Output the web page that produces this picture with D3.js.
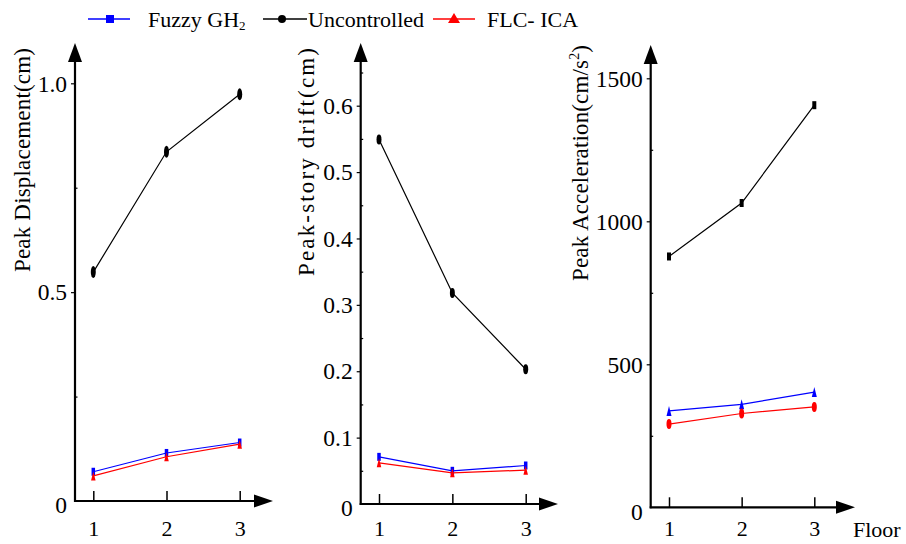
<!DOCTYPE html>
<html>
<head>
<meta charset="utf-8">
<script src="https://cdn.jsdelivr.net/npm/d3@7/dist/d3.min.js"></script>
<style>
  html, body { margin: 0; padding: 0; background: #fff; }
  svg { display: block; font-family: "Liberation Serif", "Times New Roman", serif; }
</style>
</head>
<body>
<svg id="chart" width="906" height="544"></svg>
<script>
// Floors on the horizontal axis
const floors = [1, 2, 3];

// Peak displacement (cm)
const dispFuzzy = [0.070, 0.115, 0.140];
const dispUncontrolled = [0.548, 0.836, 0.974];
const dispFlcIca = [0.060, 0.106, 0.136];

// Peak story drift (cm)
const driftFuzzy = [0.071, 0.050, 0.058];
const driftUncontrolled = [0.549, 0.318, 0.203];
const driftFlcIca = [0.062, 0.047, 0.051];

// Peak acceleration (cm/s^2)
const accFuzzy = [337, 360, 403];
const accUncontrolled = [877, 1064, 1406];
const accFlcIca = [291, 328, 351];

// Tick values and labels
const dispTicks = [0, 0.5, 1.0];
const dispTickLabels = ["0", "0.5", "1.0"];
const dispMinor = [0.25, 0.75];
const driftTicks = [0, 0.1, 0.2, 0.3, 0.4, 0.5, 0.6];
const driftTickLabels = ["0", "0.1", "0.2", "0.3", "0.4", "0.5", "0.6"];
const driftMinor = [0.05, 0.15, 0.25, 0.35, 0.45, 0.55, 0.65];
const accTicks = [0, 500, 1000, 1500];
const accTickLabels = ["0", "500", "1000", "1500"];
const accMinor = [250, 750, 1250];

const seriesNames = ["Fuzzy GH", "Uncontrolled", "FLC- ICA"];
const colors = { fuzzy: "#0000ff", unc: "#000000", flc: "#ff0000" };

const svg = d3.select("#chart");

// Narrow marker shapes centred on (0,0)
function drawMarker(g, shape, color, w, h) {
  if (shape === "rect") {
    g.append("rect").attr("x", -w / 2).attr("y", -h / 2).attr("width", w).attr("height", h).attr("fill", color);
  } else if (shape === "ellipse") {
    g.append("ellipse").attr("rx", w / 2).attr("ry", h / 2).attr("fill", color);
  } else {
    g.append("path").attr("d", `M0,${-h / 2}L${w / 2},${h / 2}L${-w / 2},${h / 2}Z`).attr("fill", color);
  }
}

const panels = [
  {
    title: [{ t: "Peak Displacement(cm)" }], titleX: 30, titleY: 160, titleLen: 224,
    axisX: 75, xRange: [93.3, 239.7], tipX: 273,
    yDomain: [0, 1], yRange: [501, 83.3], topY: 43,
    ticks: dispTicks, labels: dispTickLabels, minor: dispMinor,
    series: [
      { v: dispFuzzy, c: colors.fuzzy, shape: "rect", w: 3.5, h: 8 },
      { v: dispFlcIca, c: colors.flc, shape: "tri", w: 4.5, h: 9 },
      { v: dispUncontrolled, c: colors.unc, shape: "ellipse", w: 5, h: 12 }
    ]
  },
  {
    title: [{ t: "Peak-story drift(cm)" }], titleX: 314, titleY: 162, titleLen: 228,
    axisX: 360.7, xRange: [379, 525.7], tipX: 558,
    yDomain: [0, 0.6], yRange: [504, 105.7], topY: 43,
    ticks: driftTicks, labels: driftTickLabels, minor: driftMinor,
    series: [
      { v: driftFuzzy, c: colors.fuzzy, shape: "rect", w: 3.5, h: 8 },
      { v: driftFlcIca, c: colors.flc, shape: "tri", w: 4.5, h: 9 },
      { v: driftUncontrolled, c: colors.unc, shape: "ellipse", w: 5, h: 10 }
    ]
  },
  {
    title: [{ t: "Peak Acceleration(cm/s" }, { t: "2", sup: true }, { t: ")" }], titleX: 588, titleY: 163, titleLen: 236,
    axisX: 650.7, xRange: [669, 814.3], tipX: 855,
    yDomain: [0, 1500], yRange: [507.3, 78.3], topY: 45,
    ticks: accTicks, labels: accTickLabels, minor: accMinor,
    series: [
      { v: accFuzzy, c: colors.fuzzy, shape: "tri", w: 5, h: 10 },
      { v: accFlcIca, c: colors.flc, shape: "ellipse", w: 5, h: 10 },
      { v: accUncontrolled, c: colors.unc, shape: "rect", w: 4, h: 8 }
    ]
  }
];

panels.forEach(p => {
  const x = d3.scaleLinear().domain([1, 3]).range(p.xRange);
  const y = d3.scaleLinear().domain(p.yDomain).range(p.yRange);
  const baseY = y(0);
  const g = svg.append("g");

  // Axis lines with arrowheads
  g.append("line").attr("x1", p.axisX).attr("x2", p.axisX).attr("y1", baseY + 1).attr("y2", p.topY + 10)
    .attr("stroke", "#000").attr("stroke-width", 2.2);
  g.append("path").attr("d", `M${p.axisX},${p.topY}L${p.axisX + 7},${p.topY + 19}L${p.axisX - 7},${p.topY + 19}Z`).attr("fill", "#000");
  g.append("line").attr("x1", p.axisX - 1).attr("x2", p.tipX - 10).attr("y1", baseY).attr("y2", baseY)
    .attr("stroke", "#000").attr("stroke-width", 2.2);
  g.append("path").attr("d", `M${p.tipX},${baseY}L${p.tipX - 19},${baseY - 6.5}L${p.tipX - 19},${baseY + 6.5}Z`).attr("fill", "#000");

  // Major y ticks with labels
  const yAxis = d3.axisLeft(y).tickValues(p.ticks)
    .tickFormat((d, i) => p.labels[i]).tickSizeInner(4).tickSizeOuter(0).tickPadding(4);
  const ya = g.append("g").attr("transform", `translate(${p.axisX},0)`).call(yAxis);
  ya.select(".domain").remove();
  ya.selectAll(".tick line").attr("stroke", "#000").attr("stroke-width", 1.2)
    .filter(d => d === 0).remove();
  ya.selectAll(".tick text").attr("font-family", "Liberation Serif").attr("font-size", 23.5).attr("fill", "#000")
    .attr("dy", (d) => d === 0 ? "0.5em" : "0.33em");

  // Minor y ticks
  const yMinor = d3.axisRight(y).tickValues(p.minor).tickFormat("").tickSizeInner(2.5).tickSizeOuter(0);
  const ym = g.append("g").attr("transform", `translate(${p.axisX},0)`).call(yMinor);
  ym.select(".domain").remove();
  ym.selectAll(".tick line").attr("stroke", "#000").attr("stroke-width", 1.2);

  // Floor ticks and labels
  const xAxis = d3.axisBottom(x).tickValues(floors).tickFormat(d3.format("d")).tickSizeInner(-10).tickSizeOuter(0);
  const xa = g.append("g").attr("transform", `translate(0,${baseY})`).call(xAxis);
  xa.select(".domain").remove();
  xa.selectAll(".tick line").attr("stroke", "#000").attr("stroke-width", 1.5);
  xa.selectAll(".tick text").attr("font-family", "Liberation Serif").attr("font-size", 22).attr("fill", "#000")
    .attr("y", 536 - baseY).attr("dy", 0);

  // Axis title
  const title = g.append("text")
    .attr("transform", `translate(${p.titleX},${p.titleY}) rotate(-90)`)
    .attr("text-anchor", "middle").attr("font-size", 23).attr("fill", "#000")
    .attr("textLength", p.titleLen).attr("lengthAdjust", "spacing");
  p.title.forEach((s, i) => {
    const ts = title.append("tspan").text(s.t);
    if (s.sup) ts.attr("font-size", 14).attr("dy", -9);
    else if (i > 0) ts.attr("dy", 9);
  });

  // Series lines and markers
  const line = d3.line().x((d, i) => x(floors[i])).y(d => y(d));
  p.series.forEach(s => {
    g.append("path").datum(s.v).attr("d", line).attr("fill", "none")
      .attr("stroke", s.c).attr("stroke-width", 1.2);
    s.v.forEach((v, i) => {
      const m = g.append("g").attr("transform", `translate(${x(floors[i])},${y(v)})`);
      drawMarker(m, s.shape, s.c, s.w, s.h);
    });
  });
});

// "Floor" caption at the end of the last horizontal axis
svg.append("text").attr("x", 853).attr("y", 537).attr("font-size", 22).attr("fill", "#000").text("Floor");

// Legend
const legend = svg.append("g");
const legendItems = [
  { name: seriesNames[0], sub: "2", c: colors.fuzzy, shape: "rect", x1: 88, x2: 130, mx: 110, tx: 148 },
  { name: seriesNames[1], c: colors.unc, shape: "circle", x1: 263, x2: 307, mx: 282, tx: 308 },
  { name: seriesNames[2], c: colors.flc, shape: "tri", x1: 433, x2: 475, mx: 454, tx: 487 }
];
legendItems.forEach(it => {
  legend.append("line").attr("x1", it.x1).attr("x2", it.x2).attr("y1", 19).attr("y2", 19)
    .attr("stroke", it.c).attr("stroke-width", 1.3);
  const m = legend.append("g").attr("transform", `translate(${it.mx},19)`);
  if (it.shape === "rect") m.append("rect").attr("x", -4).attr("y", -4).attr("width", 8).attr("height", 8).attr("fill", it.c);
  else if (it.shape === "circle") m.append("circle").attr("r", 4).attr("fill", it.c);
  else m.append("path").attr("d", "M0,-6L6,4L-6,4Z").attr("fill", it.c);
  const t = legend.append("text").attr("x", it.tx).attr("y", 27).attr("font-size", 22).attr("fill", "#000").text(it.name);
  if (it.sub) t.append("tspan").attr("font-size", 13).attr("dy", 3).text(it.sub);
});
</script>
</body>
</html>
